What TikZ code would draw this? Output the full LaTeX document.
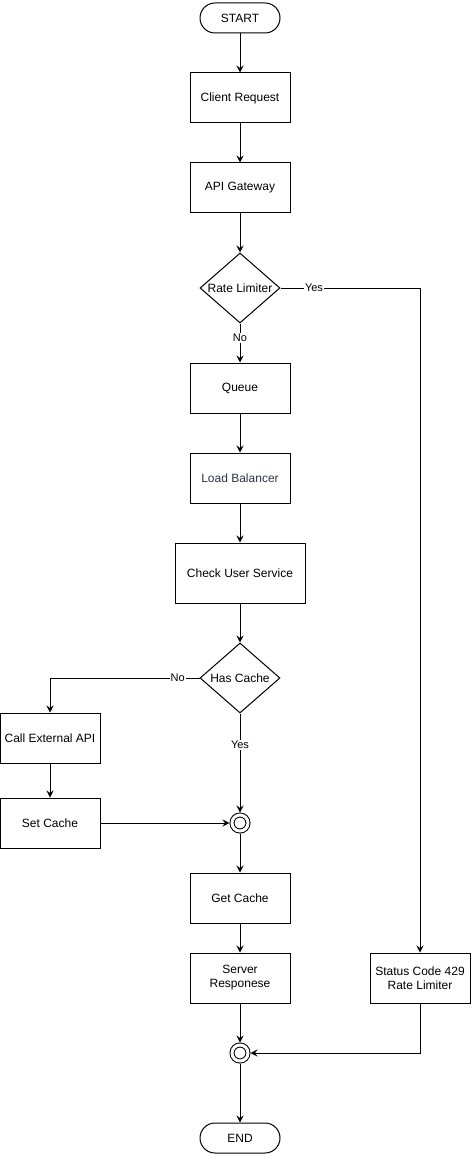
\documentclass[tikz,border=0pt]{standalone}
\usepackage{fontspec}
\setmainfont{Liberation Sans}
\usepackage{xcolor}
\usetikzlibrary{shapes.geometric, arrows.meta, calc, positioning}

\definecolor{lbtext}{HTML}{2A3547}

\begin{document}
\begin{tikzpicture}[
    x=1pt, y=-1pt,
    line width=1pt,
    font=\fontsize{12}{14}\selectfont,
    terminal/.style={rectangle, draw, rounded corners=15pt, minimum width=80pt, minimum height=30pt, align=center},
    process/.style={rectangle, draw, minimum width=100pt, minimum height=50pt, align=center},
    decision/.style={diamond, draw, aspect=1.14, inner sep=0pt, minimum width=80pt, minimum height=70pt, align=center},
    merge/.style={circle, draw, double, double distance=3pt, minimum size=16pt, inner sep=0pt, outer sep=2.5pt},
    lbl/.style={fill=white, inner sep=1pt, font=\fontsize{11}{13}\selectfont},
    arrow/.style={-{Stealth[length=7pt, width=7pt, inset=2.5pt]}}
]
\useasboundingbox (0,0) rectangle (471,1158);

% main column
\node[terminal] (start) at (240,18) {START};
\node[process] (client) at (240,98) {Client Request};
\node[process] (gateway) at (240,188) {API Gateway};
\node[decision] (ratelim) at (240,288) {Rate Limiter};
\node[process] (queue) at (240,388) {Queue};
\node[process, text=lbtext] (lb) at (240,478) {Load Balancer};
\node[process, minimum width=130pt, minimum height=60pt] (checkuser) at (240,573) {Check User Service};
\node[decision] (hascache) at (240,678) {Has Cache};

% cache miss branch
\node[process] (callapi) at (50,738) {Call External API};
\node[process] (setcache) at (50,823) {Set Cache};

% join and response
\node[merge] (join1) at (240,823) {};
\node[process] (getcache) at (240,898) {Get Cache};
\node[process] (server) at (240,978) {Server\\Responese};
\node[process] (status) at (420,978) {Status Code 429\\Rate Limiter};
\node[merge] (join2) at (240,1053) {};
\node[terminal] (end) at (240,1138) {END};

% connectors
\draw[arrow] (start) -- (client);
\draw[arrow] (client) -- (gateway);
\draw[arrow] (gateway) -- (ratelim);
\draw[arrow] (ratelim) -- node[lbl, pos=0.375] {No} (queue);
\draw[arrow] (ratelim.east) -| node[lbl, pos=0.12] {Yes} (status.north);
\draw[arrow] (queue) -- (lb);
\draw[arrow] (lb) -- (checkuser);
\draw[arrow] (checkuser) -- (hascache);
\draw[arrow] (hascache.west) -| node[lbl, pos=0.073] {No} (callapi.north);
\draw[arrow] (hascache) -- node[lbl, pos=0.32] {Yes} (join1);
\draw[arrow] (callapi) -- (setcache);
\draw[arrow] (setcache) -- (join1);
\draw[arrow] (join1) -- (getcache);
\draw[arrow] (getcache) -- (server);
\draw[arrow] (server) -- (join2);
\draw[arrow] (status.south) |- (join2);
\draw[arrow] (join2) -- (end);

\end{tikzpicture}
\end{document}
